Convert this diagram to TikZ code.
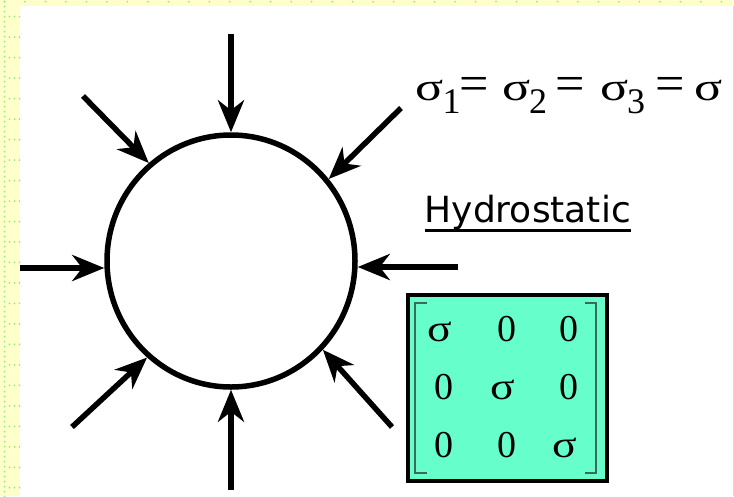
\documentclass[tikz,border=0pt]{standalone}
\usepackage{fontspec}
\usepackage{graphicx}
\setmainfont{Liberation Serif}
\newfontfamily\hydfont{DejaVu Sans}
\usetikzlibrary{arrows.meta,shapes.geometric}
\definecolor{paper}{HTML}{FFFFCC}
\definecolor{dotgreen}{HTML}{99EE77}
\definecolor{aqua}{HTML}{66FFCC}
\definecolor{brack}{RGB}{60,105,90}
\begin{document}
\begin{tikzpicture}[x=1pt,y=-1pt,
  force/.style={line width=5.5pt, -{Stealth[length=32pt,width=26pt,inset=10pt]}},
  big/.style={font=\fontsize{36}{40}\selectfont, inner sep=0pt, anchor=base},
  entry/.style={font=\fontsize{38}{42}\selectfont, inner sep=0pt, anchor=base},
  bracket/.style={draw=brack, line width=1.5pt}]
\useasboundingbox (0,0) rectangle (734,496);
% background strip with dotted grid
\fill[paper] (0,0) rectangle (734,496);
\fill[white] (20,6) rectangle (733,496);
\fill[black!15] (733,6) rectangle (734,496);
\foreach \k in {0,...,35} \fill[dotgreen] (4.5+20.48*\k,1.7) circle (1);
\foreach \j in {0,...,99} \fill[dotgreen] (4.5,1.7+5*\j) circle (1);
\foreach \k in {0,...,23} \foreach \i in {1,2,3} \fill[dotgreen] (4.5+5*\i,16.7+20.48*\k) circle (1);
% sphere
\node[ellipse, draw, line width=5.5pt, minimum width=248pt, minimum height=252pt, inner sep=0pt] (ball) at (231,261) {};
% tails of the force arrows
\coordinate (tN) at (231,34);
\coordinate (tS) at (231,490);
\coordinate (tW) at (20,268);
\coordinate (tE) at (458,267);
\coordinate (tNW) at (83,96);
\coordinate (tNE) at (401,108);
\coordinate (tSW) at (72,427);
\coordinate (tSE) at (392,427);
\draw[force] (tN) -- (ball.north);
\draw[force] (tS) -- (ball.south);
\draw[force] (tW) -- (tW -| ball.west);
\draw[force] (tE) -- (tE -| ball.east);
\draw[force] (tNW) -- (ball.130);
\draw[force] (tNE) -- (ball.40);
\draw[force] (tSW) -- (ball.229);
\draw[force] (tSE) -- (ball.316);
% formula
\node[big] (s1) at (430,100) {\scalebox{1.45}[1.1]{σ}};
\node[big] (i1) at (451.5,113) {\makebox[9pt]{1}};
\node[big] (e1) at (474.5,100) {\scalebox{1.45}[1.4]{=}};
\node[big] (s2) at (517,100) {\scalebox{1.45}[1.1]{σ}};
\node[big] (i2) at (538,113) {\makebox[14pt]{2}};
\node[big] (e2) at (570,100) {\scalebox{1.45}[1.4]{=}};
\node[big] (s3) at (615,100) {\scalebox{1.45}[1.1]{σ}};
\node[big] (i3) at (636,113) {\makebox[14pt]{3}};
\node[big] (e3) at (670,100) {\scalebox{1.45}[1.4]{=}};
\node[big] (s4) at (709,100) {\scalebox{1.45}[1.1]{σ}};
% label
\node[font=\hydfont\fontsize{36}{40}\selectfont, inner sep=0pt, anchor=base west] (hyd) at (424.5,222) {Hydrostatic};
\draw[line width=3pt] ([yshift=-8pt]hyd.base west) -- ([yshift=-8pt]hyd.base east);
% matrix
\node[draw, line width=4pt, fill=aqua, minimum width=199pt, minimum height=186pt, inner sep=0pt] (mbox) at (507.5,388) {};
\draw[bracket] (427,303) -- (415,303) -- (415,473) -- (427,473);
\draw[bracket] (585,303) -- (596,303) -- (596,473) -- (585,473);
\node[entry] (m11) at (440,341) {\scalebox{1.2}[1]{σ}};
\node[entry] (m12) at (506.5,341) {0};
\node[entry] (m13) at (568.5,341) {0};
\node[entry] (m21) at (443.5,399) {0};
\node[entry] (m22) at (502.5,399) {\scalebox{1.2}[1]{σ}};
\node[entry] (m23) at (568.5,399) {0};
\node[entry] (m31) at (443.5,457) {0};
\node[entry] (m32) at (506.5,457) {0};
\node[entry] (m33) at (564.5,457) {\scalebox{1.2}[1]{σ}};
\end{tikzpicture}
\end{document}
